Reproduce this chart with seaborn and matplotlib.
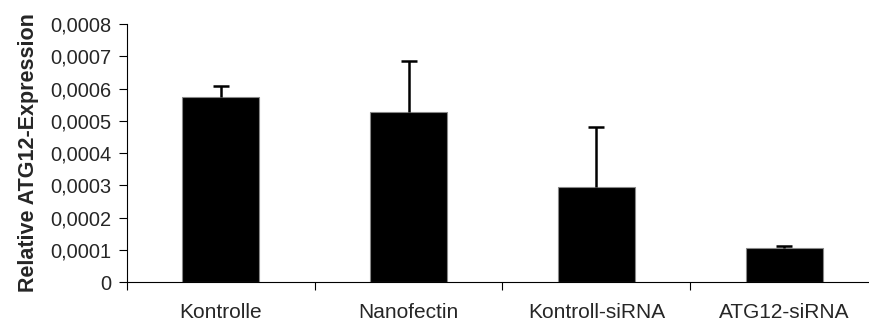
import pandas as pd
import seaborn as sns
import numpy as np
import matplotlib
matplotlib.use("Agg")
import matplotlib.pyplot as plt
from matplotlib.ticker import FuncFormatter, MultipleLocator

# --- data ---
groups = ['Kontrolle', 'Nanofectin', 'Kontroll-siRNA', 'ATG12-siRNA']
expression = [0.000575, 0.000528, 0.000294, 0.000104]
err_upper = [0.000033, 0.000157, 0.000188, 0.000008]

df = pd.DataFrame({'Gruppe': groups, 'Expression': expression})

sns.set_style("white")
plt.rcParams['font.family'] = ['Liberation Sans', 'DejaVu Sans']

fig = plt.figure(figsize=(8.7, 3.27), dpi=100)
ax = fig.add_axes([127 / 870, 45 / 327, 751 / 870, 258 / 327])

sns.barplot(data=df, x='Gruppe', y='Expression', color='black', width=0.41,
            edgecolor='#888888', linewidth=0.8, errorbar=None, ax=ax, saturation=1)

eb = ax.errorbar(range(len(groups)), expression, yerr=[[0] * len(groups), err_upper],
                 fmt='none', ecolor='black', elinewidth=1.8, capsize=5.8, capthick=1.8)
# only the upper caps are shown
for cap in eb[1]:
    if np.allclose(cap.get_ydata(), expression):
        cap.set_visible(False)

ax.set_xlim(-0.5, 3.5)
ax.set_ylim(0, 0.0008)
ax.yaxis.set_major_locator(MultipleLocator(0.0001))
ax.yaxis.set_major_formatter(FuncFormatter(
    lambda v, p: '0' if abs(v) < 1e-12 else f'{v:.4f}'.replace('.', ',')))
ax.set_xticks([-0.5, 0.5, 1.5, 2.5], minor=False)
ax.set_xticks([0, 1, 2, 3], minor=True)
ax.set_xticklabels([''] * 4)
ax.set_xticklabels(groups, minor=True)

ax.tick_params(axis='both', which='major', direction='out', length=5.5, width=0.8,
               color='black', labelsize=14.4)
ax.tick_params(axis='x', which='minor', length=0, labelsize=15, pad=15)
ax.tick_params(axis='x', which='major', bottom=True)
ax.tick_params(axis='y', left=True, pad=6)

for side in ['top', 'right']:
    ax.spines[side].set_visible(False)
for side in ['left', 'bottom']:
    ax.spines[side].set_color('black')
    ax.spines[side].set_linewidth(0.8)

ax.set_xlabel('')
ax.set_ylabel('Relative ATG12-Expression', fontsize=15.5, fontweight='bold', labelpad=8)

fig.savefig('out.png', dpi=100)
plt.close(fig)
